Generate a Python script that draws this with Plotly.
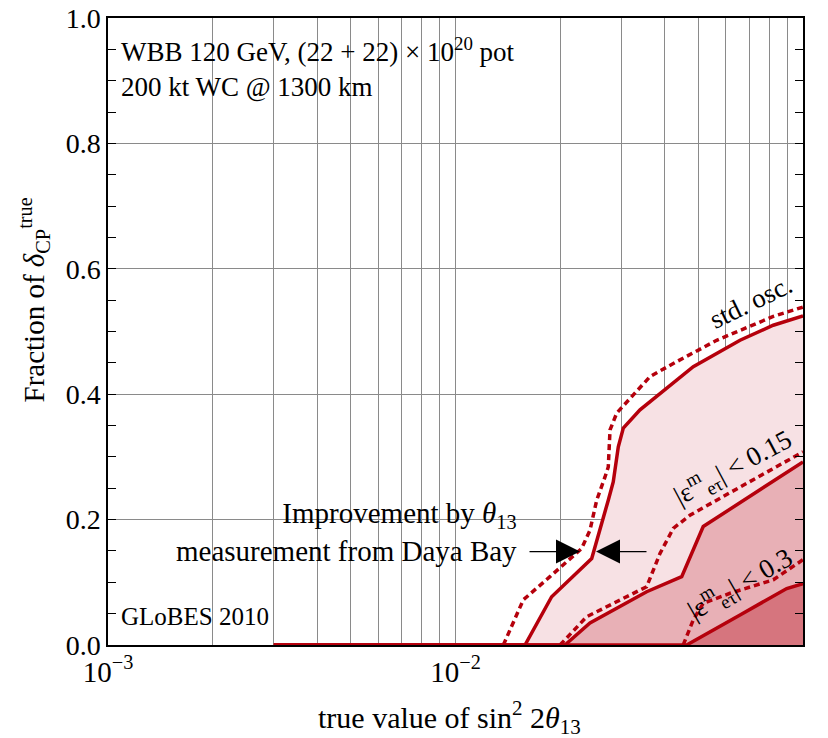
import plotly.graph_objects as go

# ---- data ----
std_solid_x = [0.003, 0.01585, 0.01891, 0.02466, 0.02752, 0.02844, 0.02941, 0.03040, 0.03396, 0.03877, 0.04833, 0.06589, 0.08211, 0.1]
std_solid_y = [0.0, 0.0, 0.077, 0.138, 0.231, 0.260, 0.316, 0.346, 0.375, 0.401, 0.444, 0.486, 0.510, 0.525]

std_dash_x = [0.01373, 0.01567, 0.0187, 0.02307, 0.02438, 0.02549, 0.02693, 0.02752, 0.02784, 0.02911, 0.03628, 0.04234, 0.05644, 0.08211, 0.1]
std_dash_y = [0.0, 0.072, 0.109, 0.154, 0.183, 0.231, 0.268, 0.284, 0.343, 0.370, 0.428, 0.449, 0.486, 0.524, 0.539]

mid_solid_x = [0.003, 0.02065, 0.02438, 0.03549, 0.04477, 0.05163, 0.1]
mid_solid_y = [0.0, 0.0, 0.035, 0.085, 0.109, 0.189, 0.292]

mid_dash_x = [0.01999, 0.02384, 0.03549, 0.03708, 0.03877, 0.04234, 0.04728, 0.05644, 0.1]
mid_dash_y = [0.0, 0.045, 0.093, 0.120, 0.146, 0.186, 0.207, 0.231, 0.308]

in_solid_x = [0.003, 0.04627, 0.06589, 0.08977, 0.1]
in_solid_y = [0.0, 0.0, 0.048, 0.090, 0.098]

in_dash_x = [0.04522, 0.04833, 0.05163, 0.06165, 0.08211, 0.1]
in_dash_y = [0.0, 0.040, 0.0665, 0.0825, 0.104, 0.136]

x_ticks = [1e-3, 1e-2, 1e-1]
x_tick_text = ["10<sup>\u22123</sup>", "10<sup>\u22122</sup>", "10<sup>\u22121</sup>"]
x_minor_grid = [m * 10.0 ** e for e in (-3, -2) for m in range(2, 10)]
y_ticks = [0.0, 0.2, 0.4, 0.6, 0.8, 1.0]
y_tick_text = ["0.0", "0.2", "0.4", "0.6", "0.8", "1.0"]

# ---- style ----
RED = "#b5000c"
FILLS = ["#f7e1e4", "#e8b0b6", "#d6757e"]
FONT = "Liberation Serif"
GRID = "#8a8a8a"

fig = go.Figure()

for xs, ys, fc in [(std_solid_x, std_solid_y, FILLS[0]),
                   (mid_solid_x, mid_solid_y, FILLS[1]),
                   (in_solid_x, in_solid_y, FILLS[2])]:
    fig.add_trace(go.Scatter(x=xs, y=ys, mode="lines", fill="tozeroy",
                             fillcolor=fc, line=dict(width=0), hoverinfo="skip",
                             showlegend=False))

for xs, ys in [(std_dash_x, std_dash_y), (mid_dash_x, mid_dash_y), (in_dash_x, in_dash_y)]:
    fig.add_trace(go.Scatter(x=xs, y=ys, mode="lines",
                             line=dict(color=RED, width=3.5, dash="6px,4px"),
                             showlegend=False))
for xs, ys in [(std_solid_x, std_solid_y), (mid_solid_x, mid_solid_y), (in_solid_x, in_solid_y)]:
    fig.add_trace(go.Scatter(x=xs, y=ys, mode="lines",
                             line=dict(color=RED, width=3.5),
                             showlegend=False))

fig.update_xaxes(type="log", range=[-3, -1], tickvals=x_ticks, ticktext=x_tick_text,
                 showgrid=True, gridcolor=GRID, gridwidth=1,
                 minor=dict(tickvals=x_minor_grid, showgrid=True, gridcolor=GRID, gridwidth=1, ticks=""),
                 showline=True, linecolor="black", linewidth=1.5, mirror=True,
                 ticks="", zeroline=False, automargin=False,
                 tickfont=dict(family=FONT, size=29, color="black"))
fig.update_yaxes(range=[0, 1], tickvals=y_ticks, ticktext=y_tick_text,
                 showgrid=True, gridcolor=GRID, gridwidth=1,
                 showline=True, linecolor="black", linewidth=1.5, mirror="ticks",
                 ticks="inside", ticklen=8, tickcolor="black", zeroline=False, automargin=False,
                 minor=dict(dtick=0.05, ticks="inside", ticklen=8, tickcolor="black", showgrid=False),
                 tickfont=dict(family=FONT, size=28, color="black"))

ann_font = dict(family=FONT, size=27, color="black")
annotations = [
    dict(text="true value of sin<sup>2</sup> 2<i>\u03b8</i><sub>13</sub>", x=0.492, y=-0.115,
         xref="paper", yref="paper", xanchor="center", yanchor="middle", showarrow=False,
         font=dict(family=FONT, size=30, color="black")),
    dict(text="Fraction of <i>\u03b4</i><sub>CP</sub><sup>true</sup>", x=-0.106, y=0.55,
         xref="paper", yref="paper", xanchor="center", yanchor="middle", showarrow=False,
         textangle=-90, font=dict(family=FONT, size=29, color="black")),
    dict(text="WBB 120 GeV, (22 + 22) \u00d7 10<sup>20</sup> pot", x=0.016, y=0.949,
         xref="paper", yref="paper", xanchor="left", yanchor="middle", showarrow=False, font=ann_font),
    dict(text="200 kt WC @ 1300 km", x=0.016, y=0.89,
         xref="paper", yref="paper", xanchor="left", yanchor="middle", showarrow=False, font=ann_font),
    dict(text="GLoBES 2010", x=0.016, y=0.045,
         xref="paper", yref="paper", xanchor="left", yanchor="middle", showarrow=False,
         font=dict(family=FONT, size=25, color="black")),
    dict(text="Improvement by <i>\u03b8</i><sub>13</sub><br>measurement from Daya Bay",
         x=0.592, y=0.18, xref="paper", yref="paper", xanchor="right", yanchor="middle",
         align="right", showarrow=False, font=dict(family=FONT, size=29, color="black")),
    dict(text="std. osc.", x=0.925, y=0.547, xref="paper", yref="paper", textangle=-26,
         xanchor="center", yanchor="middle", showarrow=False, font=ann_font),
    dict(text="|\u03b5<sup>m</sup><sub>e\u03c4</sub>| < 0.15", x=0.899, y=0.284, xref="paper",
         yref="paper", textangle=-28, xanchor="center", yanchor="middle",
         showarrow=False, font=ann_font),
    dict(text="|\u03b5<sup>m</sup><sub>e\u03c4</sub>| < 0.3", x=0.908, y=0.098, xref="paper",
         yref="paper", textangle=-30, xanchor="center", yanchor="middle",
         showarrow=False, font=ann_font),
    dict(text="", x=-1.6417, y=0.149, xref="x", yref="y", showarrow=True, ax=-52, ay=0,
         arrowhead=2, arrowsize=4, arrowwidth=1.2, arrowcolor="black"),
    dict(text="", x=-1.5957, y=0.149, xref="x", yref="y", showarrow=True, ax=52, ay=0,
         arrowhead=2, arrowsize=4, arrowwidth=1.2, arrowcolor="black"),
]
fig.update_layout(annotations=annotations)

fig.update_layout(width=828, height=738, margin=dict(l=108, r=25, t=18, b=93),
                  paper_bgcolor="white", plot_bgcolor="white",
                  font=dict(family=FONT, color="black"))

# remove the default 8px page margin so the figure fills the window exactly
fig.write_html("out.html", config={"displayModeBar": False},
               post_script="document.body.style.margin='0';document.body.style.overflow='hidden';")
